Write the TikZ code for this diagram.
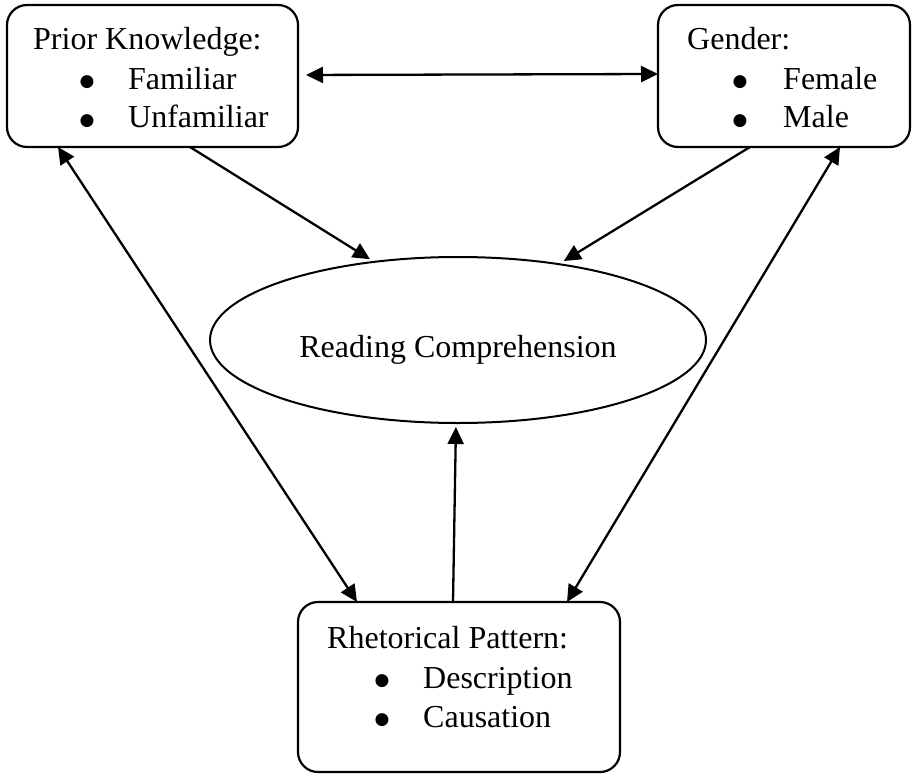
\documentclass[tikz,border=0pt]{standalone}
\usepackage{fontspec}
\setmainfont{Liberation Serif}
\newfontfamily\djv{DejaVu Sans}
\usetikzlibrary{arrows.meta,shapes.geometric,calc}
\begin{document}
\begin{tikzpicture}[x=1pt,y=-1pt,
  box/.style={draw,line width=2.2pt,rounded corners=20pt,inner sep=0pt,outer sep=0pt},
  txt/.style={anchor=base west,inner sep=0pt,font=\fontsize{32}{38}\selectfont},
  bul/.style={anchor=base,inner sep=0pt,font=\djv\fontsize{17}{17}\selectfont},
  arr/.style={line width=2.3pt,-{Triangle[length=17pt,width=16pt]}},
  darr/.style={line width=2.3pt,{Triangle[length=17pt,width=16pt]}-{Triangle[length=17pt,width=16pt]}}
]
\useasboundingbox (0,0) rectangle (912,773);
% boxes
\node[box,minimum width=291pt,minimum height=142pt] (pk) at (152.5,76) {};
\node[box,minimum width=252pt,minimum height=142pt] (gd) at (784,76) {};
\node[box,minimum width=322pt,minimum height=170pt] (rp) at (459,687) {};
\node[draw,ellipse,line width=2pt,inner sep=0pt,outer sep=0pt,minimum width=496pt,minimum height=166pt] (rc) at (458,340) {};
% texts
\node[txt] (pkt) at (33,50) {Prior Knowledge:};
\node[bul] (pkb1) at (87,87) {●};
\node[bul] (pkb2) at (87,125) {●};
\node[txt] (pk1) at (128,90) {Familiar};
\node[txt] (pk2) at (128,128) {Unfamiliar};
\node[txt] (gdt) at (687,50) {Gender:};
\node[bul] (gdb1) at (740,87) {●};
\node[bul] (gdb2) at (740,125) {●};
\node[txt] (gd1) at (783,90) {Female};
\node[txt] (gd2) at (783,128) {Male};
\node[txt] (rpt) at (327,648) {Rhetorical Pattern:};
\node[bul] (rpb1) at (382,685) {●};
\node[bul] (rpb2) at (382,724) {●};
\node[txt] (rp1) at (423,688) {Description};
\node[txt] (rp2) at (423,727) {Causation};
\node[anchor=base,inner sep=0pt,font=\fontsize{32}{38}\selectfont] (rct) at (458,357) {Reading Comprehension};
% connectors
\draw[darr,shorten <=8pt] ($(pk.east)+(0,-1)$) -- ($(gd.west)+(0,-2)$);
\draw[arr,shorten >=5pt] ($(pk.south west)+(183,0)$) -- (rc.137.8);
\draw[arr,shorten >=6pt] ($(gd.south west)+(92,0)$) -- (rc.37.5);
\draw[darr] ($(pk.south west)+(51,0)$) -- ($(rp.north west)+(59,0)$);
\draw[darr] ($(gd.south west)+(182,0)$) -- ($(rp.north west)+(269,0)$);
\draw[arr,shorten >=4pt] ($(rp.north west)+(155,0)$) -- ($(rc.south)+(-2,0)$);
\end{tikzpicture}
\end{document}
